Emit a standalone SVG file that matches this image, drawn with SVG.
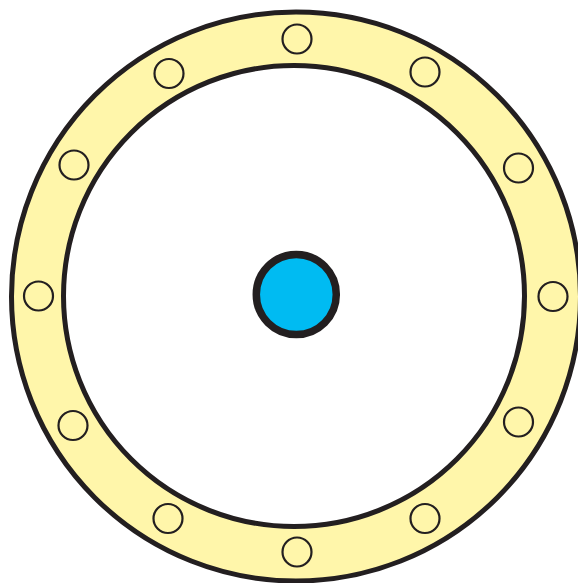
<svg xmlns="http://www.w3.org/2000/svg" width="578" height="583" viewBox="0 0 578 583">
  <style>
    .ring { fill: #FFF6AA; stroke: #231F20; stroke-width: 5; }
    .inner { fill: #FFFFFF; stroke: #231F20; stroke-width: 5; }
    .hole { fill: none; stroke: #231F20; stroke-width: 2.2; }
    .hub { fill: #00BBF2; stroke: #231F20; stroke-width: 7.5; }
  </style>
  <rect width="578" height="583" fill="#FFFFFF"/>
  <g id="outer-ring">
    <circle class="ring" cx="296" cy="296.5" r="284.5"/>
  </g>
  <g id="inner-disc">
    <circle class="inner" cx="294" cy="296" r="230.5"/>
  </g>
  <g id="holes">
    <g id="hole-0"><circle class="hole" cx="297" cy="39" r="14.5"/></g>
    <g id="hole-1"><circle class="hole" cx="425" cy="72" r="14.5"/></g>
    <g id="hole-2"><circle class="hole" cx="518.5" cy="168" r="14.5"/></g>
    <g id="hole-3"><circle class="hole" cx="553" cy="296.5" r="14.5"/></g>
    <g id="hole-4"><circle class="hole" cx="518.5" cy="422" r="14.5"/></g>
    <g id="hole-5"><circle class="hole" cx="425" cy="518.5" r="14.5"/></g>
    <g id="hole-6"><circle class="hole" cx="297" cy="552" r="14.5"/></g>
    <g id="hole-7"><circle class="hole" cx="168" cy="518.5" r="14.5"/></g>
    <g id="hole-8"><circle class="hole" cx="73" cy="425.5" r="14.5"/></g>
    <g id="hole-9"><circle class="hole" cx="38.5" cy="296" r="14.5"/></g>
    <g id="hole-10"><circle class="hole" cx="74" cy="165" r="14.5"/></g>
    <g id="hole-11"><circle class="hole" cx="169" cy="73.5" r="14.5"/></g>
  </g>
  <g id="hub">
    <circle class="hub" cx="296.3" cy="294.5" r="40"/>
  </g>
  <g id="connectors"/>
</svg>
